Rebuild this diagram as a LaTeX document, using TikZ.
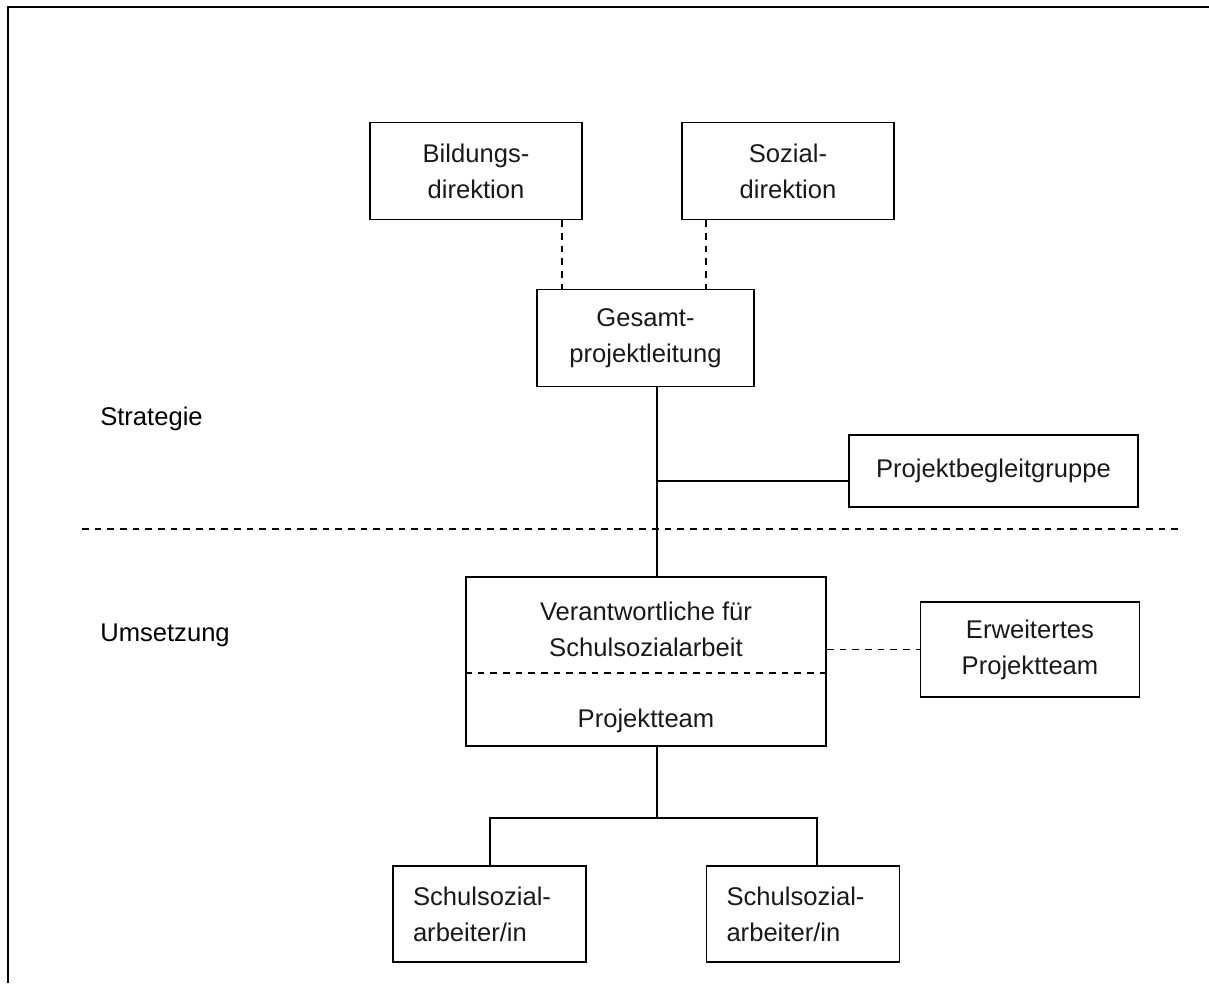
\documentclass[tikz,border=0pt]{standalone}
\usepackage{fontspec}
\setmainfont{Liberation Sans}
\usetikzlibrary{positioning,calc}

\tikzset{
  box/.style={draw, line width=1.4pt, align=center, inner sep=0pt, text=black!90},
  leftbox/.style={draw, line width=1.4pt, align=left, inner xsep=15pt, inner ysep=0pt,
    text width=114.75pt, minimum height=72pt, text=black!90},
  dashline/.style={line width=1.3pt, dash pattern=on 5pt off 4.5pt},
  solidline/.style={line width=1.4pt},
}

\begin{document}
\begin{tikzpicture}[x=0.75pt,y=-0.75pt,font=\fontsize{19.2}{27}\selectfont]
    \useasboundingbox (0,0) rectangle (1209,983);
    % Frame (cut at right and bottom)
    \draw[line width=1.9pt] (8,983) -- (8,7) -- (1209,7);

    % Strategie
    \node[box, minimum width=159pt, minimum height=72.75pt] (bildung) at (476,171) {Bildungs-\\direktion};
    \node[box, minimum width=159pt, minimum height=72.75pt] (sozial) at (788,171) {Sozial-\\direktion};
    \node[box, minimum width=162.75pt, minimum height=72.75pt] (gesamt) at (645.5,338) {Gesamt-\\projektleitung};
    \node[box, minimum width=216.75pt, minimum height=54pt] (begleit) at (993.5,471) {Projektbegleitgruppe};
    \node[anchor=west, text=black, inner xsep=0pt] (strat) at (100,419) {Strategie};

    % Umsetzung
    \node[box, minimum width=270pt, minimum height=126.75pt] (verant) at (646,661.5) {};
    \node[text=black!90, align=center] (verantT) at (646,629) {Verantwortliche für\\Schulsozialarbeit};
    \node[text=black!90] (pteam) at (646,721) {Projektteam};
    \node[box, minimum width=164.25pt, minimum height=71.25pt] (erweit) at (1030,649.5) {Erweitertes\\Projektteam};
    \node[anchor=west, text=black, inner xsep=0pt] (umsetz) at (100,635) {Umsetzung};
    \node[leftbox] (ssa1) at (489.5,914) {Schulsozial-\\arbeiter/in};
    \node[leftbox] (ssa2) at (803,914) {Schulsozial-\\arbeiter/in};

    % helper points
    \coordinate (d1) at (562,0);
    \coordinate (d2) at (706,0);
    \coordinate (spine) at (657,0);
    \coordinate (bg) at (657,481);
    \coordinate (sep) at (0,673);
    \coordinate (fork) at (657,818);
    \coordinate (b1) at (490,818);
    \coordinate (b2) at (817,818);

    % Connectors
    \draw[dashline] (bildung.south -| d1) -- (gesamt.north -| d1);
    \draw[dashline] (sozial.south -| d2) -- (gesamt.north -| d2);
    \draw[solidline] (gesamt.south -| spine) -- (verant.north -| spine);
    \draw[solidline] (bg) -- (begleit.west |- bg);
    \draw[dashline] (82,529) -- (1180,529); % Trennlinie
    \draw[dashline] (verant.west |- sep) -- (verant.east |- sep);
    \draw[dashline] (verant.east |- erweit.west) -- (erweit.west);
    \draw[solidline] (verant.south -| fork) -- (fork);
    \draw[solidline] (ssa1.north -| b1) -- (b1) -- (b2) -- (ssa2.north -| b2);
\end{tikzpicture}
\end{document}
